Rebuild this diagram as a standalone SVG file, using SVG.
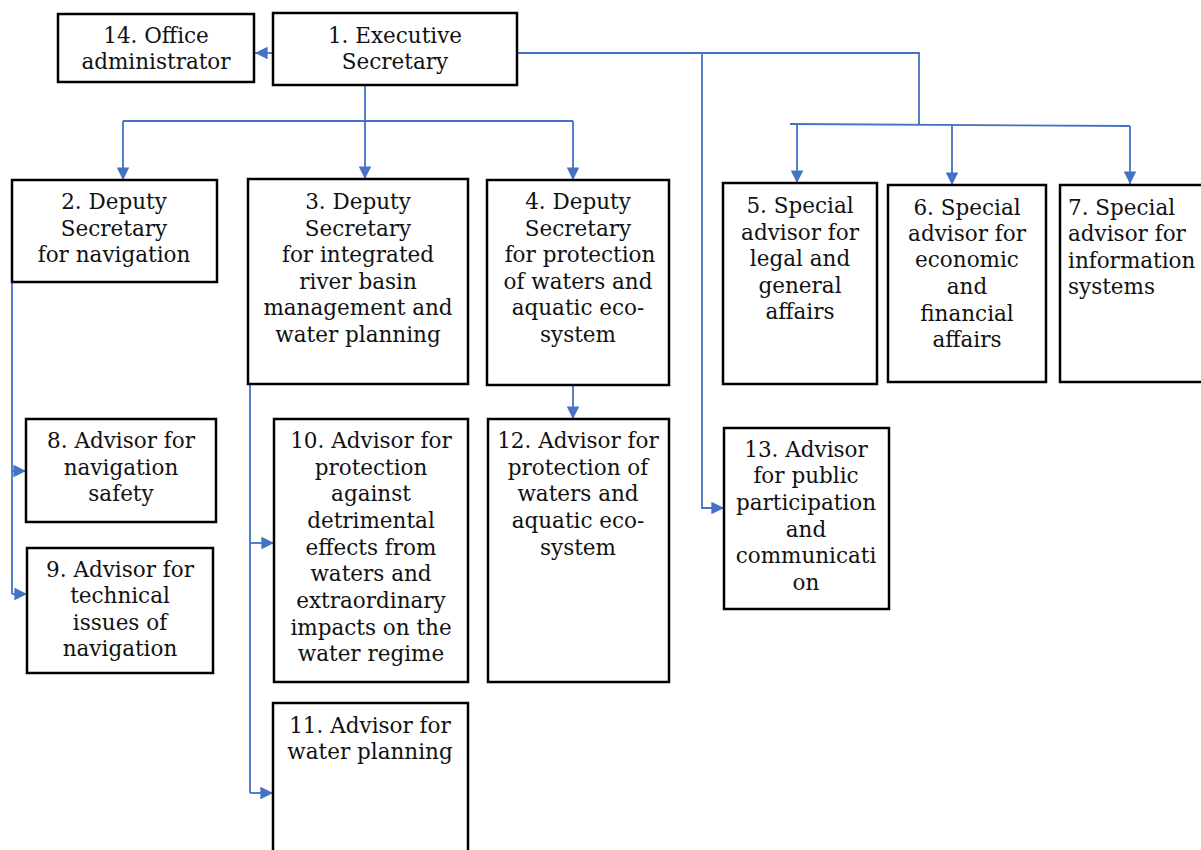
<svg xmlns="http://www.w3.org/2000/svg" width="1201" height="850" viewBox="0 0 1201 850">
<style>
.box{fill:#fff;stroke:#000;stroke-width:2.5}
.t{font-family:"DejaVu Serif","Liberation Serif",serif;font-size:21.5px;fill:#111;text-anchor:middle}
.tl{text-anchor:start}
.c{fill:none;stroke:#4472C4;stroke-width:1.8}
.a{fill:none;stroke:#4472C4;stroke-width:1.8;marker-end:url(#ah)}
</style>
<defs>
<marker id="ah" viewBox="0 0 10 10" refX="10" refY="5" markerWidth="7" markerHeight="7" markerUnits="strokeWidth" orient="auto">
<path d="M0,0 L10,5 L0,10 z" fill="#4472C4"/>
</marker>
</defs>
<rect width="1201" height="850" fill="#fff"/>
<g id="connectors">
<path class="a" d="M273,53 H255"/>
<path class="c" d="M365,85 V121 M123,121 H573"/>
<path class="a" d="M123,121 V180"/>
<path class="a" d="M365,121 V179"/>
<path class="a" d="M573,121 V180"/>
<path class="c" d="M517,53 H919 V124 M790,124 L1130,126"/>
<path class="a" d="M797,124 V183"/>
<path class="a" d="M952,125 V185"/>
<path class="a" d="M1130,126 V184"/>
<path class="a" d="M702,53 V508 H724"/>
<path class="c" d="M12,282 V594"/>
<path class="a" d="M12,471 H26"/>
<path class="a" d="M12,594 H27"/>
<path class="c" d="M250,384 V793"/>
<path class="a" d="M250,543 H274"/>
<path class="a" d="M250,793 H273"/>
<path class="a" d="M573,386 V419"/>
</g>
<g id="n14"><rect class="box" x="58" y="14" width="196" height="68"/>
<text class="t" x="156" y="43">14. Office</text><text class="t" x="156" y="69">administrator</text></g>
<g id="n1"><rect class="box" x="273" y="13" width="244" height="72"/>
<text class="t" x="395" y="43">1. Executive</text><text class="t" x="395" y="69">Secretary</text></g>
<g id="n2"><rect class="box" x="12" y="180" width="205" height="102"/>
<text class="t" x="114" y="209">2. Deputy</text><text class="t" x="114" y="236">Secretary</text><text class="t" x="114" y="262">for navigation</text></g>
<g id="n3"><rect class="box" x="248" y="179" width="220" height="205"/>
<text class="t" x="358" y="209">3. Deputy</text><text class="t" x="358" y="236">Secretary</text><text class="t" x="358" y="262">for integrated</text><text class="t" x="358" y="289">river basin</text><text class="t" x="358" y="315">management and</text><text class="t" x="358" y="342">water planning</text></g>
<g id="n4"><rect class="box" x="487" y="180" width="182" height="205"/>
<text class="t" x="578" y="209">4. Deputy</text><text class="t" x="578" y="236">Secretary</text><text class="t" x="580" y="262">for protection</text><text class="t" x="578" y="289">of waters and</text><text class="t" x="578" y="315">aquatic eco-</text><text class="t" x="578" y="342">system</text></g>
<g id="n5"><rect class="box" x="723" y="183" width="154" height="201"/>
<text class="t" x="800" y="213">5. Special</text><text class="t" x="800" y="240">advisor for</text><text class="t" x="800" y="266">legal and</text><text class="t" x="800" y="293">general</text><text class="t" x="800" y="319">affairs</text></g>
<g id="n6"><rect class="box" x="888" y="185" width="158" height="197"/>
<text class="t" x="967" y="215">6. Special</text><text class="t" x="967" y="241">advisor for</text><text class="t" x="967" y="267">economic</text><text class="t" x="967" y="294">and</text><text class="t" x="967" y="321">financial</text><text class="t" x="967" y="347">affairs</text></g>
<g id="n7"><rect class="box" x="1060" y="185" width="150" height="197"/>
<text class="t tl" x="1068" y="215">7. Special</text><text class="t tl" x="1068" y="241">advisor for</text><text class="t tl" x="1068" y="268">information</text><text class="t tl" x="1068" y="294">systems</text></g>
<g id="n8"><rect class="box" x="26" y="419" width="190" height="103"/>
<text class="t" x="121" y="448">8. Advisor for</text><text class="t" x="121" y="475">navigation</text><text class="t" x="121" y="501">safety</text></g>
<g id="n9"><rect class="box" x="27" y="548" width="186" height="125"/>
<text class="t" x="120" y="577">9. Advisor for</text><text class="t" x="120" y="603">technical</text><text class="t" x="120" y="630">issues of</text><text class="t" x="120" y="656">navigation</text></g>
<g id="n10"><rect class="box" x="274" y="419" width="194" height="263"/>
<text class="t" x="371" y="448">10. Advisor for</text><text class="t" x="371" y="475">protection</text><text class="t" x="371" y="501">against</text><text class="t" x="371" y="528">detrimental</text><text class="t" x="371" y="555">effects from</text><text class="t" x="371" y="581">waters and</text><text class="t" x="371" y="608">extraordinary</text><text class="t" x="371" y="635">impacts on the</text><text class="t" x="371" y="661">water regime</text></g>
<g id="n11"><rect class="box" x="273" y="703" width="195" height="160"/>
<text class="t" x="370" y="733">11. Advisor for</text><text class="t" x="370" y="759">water planning</text></g>
<g id="n12"><rect class="box" x="488" y="419" width="181" height="263"/>
<text class="t" x="578" y="448">12. Advisor for</text><text class="t" x="578" y="475">protection of</text><text class="t" x="578" y="501">waters and</text><text class="t" x="578" y="528">aquatic eco-</text><text class="t" x="578" y="555">system</text></g>
<g id="n13"><rect class="box" x="724" y="428" width="165" height="181"/>
<text class="t" x="806" y="457">13. Advisor</text><text class="t" x="806" y="483">for public</text><text class="t" x="806" y="510">participation</text><text class="t" x="806" y="537">and</text><text class="t" x="806" y="563">communicati</text><text class="t" x="806" y="590">on</text></g>
</svg>
